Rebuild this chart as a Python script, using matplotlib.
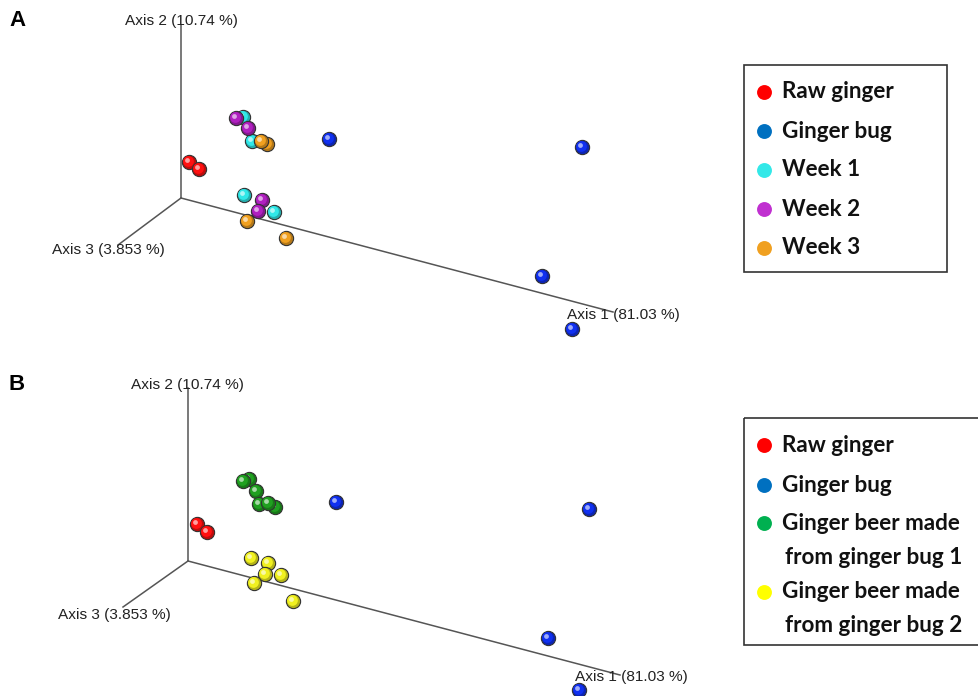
import numpy as np
import matplotlib
matplotlib.use("Agg")
import matplotlib.pyplot as plt
from matplotlib.colors import to_rgb

# projected sample positions (screen coordinates of the PCoA view)
raw_a_x = [189, 199]
raw_a_y = [162, 169]
bug_a_x = [329, 582, 542, 572]
bug_a_y = [139, 147, 276, 329]
week1_x = [243, 252, 244, 274]
week1_y = [117, 141, 195, 212]
week2_x = [236, 248, 262, 258]
week2_y = [118, 128, 200, 211]
week3_x = [267, 261, 247, 286]
week3_y = [144, 141, 221, 238]

raw_b_x = [197, 207]
raw_b_y = [524, 532]
bug_b_x = [336, 589, 548, 579]
bug_b_y = [502, 509, 638, 690]
beer1_x = [249, 243, 256, 275, 259, 268]
beer1_y = [479, 481, 491, 507, 504, 503]
beer2_x = [251, 268, 265, 281, 254, 293]
beer2_y = [558, 563, 574, 575, 583, 601]

axis_labels = ["Axis 1 (81.03 %)", "Axis 2 (10.74 %)", "Axis 3 (3.853 %)"]

legend_a = ["Raw ginger", "Ginger bug", "Week 1", "Week 2", "Week 3"]
legend_b = ["Raw ginger", "Ginger bug", "Ginger beer made\nfrom ginger bug 1",
            "Ginger beer made\nfrom ginger bug 2"]

sphere_cols = {"raw": "#ff1010", "bug": "#1030f0", "w1": "#30e8e8",
               "w2": "#b020c0", "w3": "#f0a020", "b1": "#20a020", "b2": "#f0f020"}
flat_cols = {"raw": "#ff0000", "bug": "#0070c0", "w1": "#33e8e8",
             "w2": "#c030d0", "w3": "#f0a020", "b1": "#00b050", "b2": "#ffff00"}


def spheres(ax, xs, ys, col):
    rgb = np.array(to_rgb(col))
    for x, y in zip(xs, ys):
        ax.scatter([x], [y], s=105, color=rgb * 0.75, edgecolors="#333333",
                   linewidths=0.8, zorder=3)
        ax.scatter([x - 0.8], [y - 0.8], s=60, color=rgb, linewidths=0, zorder=3)
        ax.scatter([x - 1.8], [y - 2.0], s=12, color=rgb * 0.4 + 0.6,
                   linewidths=0, zorder=3)


def draw_axes(ax, origin, top, left, right):
    ox, oy = origin
    for end in (top, left, right):
        ax.plot([ox, end[0]], [oy, end[1]], color="#555555", lw=1.1, zorder=1)


def legend_box(ax, x0, y0, x1, y1, rows, keys, gap=34):
    ax.add_patch(plt.Rectangle((x0, y0), x1 - x0, y1 - y0, fill=False,
                               edgecolor="#333333", lw=1.2, zorder=2))
    for (ty, text), k in zip(rows, keys):
        ax.scatter([764], [ty], s=115, color=flat_cols[k], linewidths=0, zorder=3)
        for i, line in enumerate(text.split("\n")):
            ax.text(782 + 3 * i, ty + gap * i, line, fontsize=16.2,
                    fontweight="bold", family="Lato", va="center", ha="left",
                    color="#111111")


fig = plt.figure(figsize=(9.79, 6.96), dpi=100)
ax = fig.add_axes([0, 0, 1, 1])
ax.set_xlim(0, 979)
ax.set_ylim(696, 0)
ax.axis("off")

lab = dict(fontsize=11.1, family="Liberation Sans", color="#222222", zorder=4)

# panel A
ax.text(9, 21, "A", fontsize=16, fontweight="bold", family="Liberation Sans",
        va="center")
draw_axes(ax, (181, 198), (181, 25), (118, 245), (613, 312))
ax.text(125, 21, axis_labels[1], va="center", **lab)
ax.text(52, 250, axis_labels[2], va="center", **lab)
ax.text(567, 315, axis_labels[0], va="center", **lab)
spheres(ax, raw_a_x, raw_a_y, sphere_cols["raw"])
spheres(ax, bug_a_x, bug_a_y, sphere_cols["bug"])
spheres(ax, week1_x, week1_y, sphere_cols["w1"])
spheres(ax, week3_x, week3_y, sphere_cols["w3"])
spheres(ax, week2_x, week2_y, sphere_cols["w2"])
legend_box(ax, 744, 65, 947, 272,
           list(zip([92, 131, 170, 209, 248], legend_a)),
           ["raw", "bug", "w1", "w2", "w3"])

# panel B
ax.text(9, 384, "B", fontsize=16, fontweight="bold", family="Liberation Sans",
        va="center")
draw_axes(ax, (188, 561), (188, 388), (123, 607), (620, 675))
ax.text(131, 385, axis_labels[1], va="center", **lab)
ax.text(58, 615, axis_labels[2], va="center", **lab)
ax.text(575, 677, axis_labels[0], va="center", **lab)
spheres(ax, raw_b_x, raw_b_y, sphere_cols["raw"])
spheres(ax, bug_b_x, bug_b_y, sphere_cols["bug"])
spheres(ax, beer1_x, beer1_y, sphere_cols["b1"])
spheres(ax, beer2_x, beer2_y, sphere_cols["b2"])
legend_box(ax, 744, 418, 985, 645,
           list(zip([445, 485, 523, 592], legend_b)),
           ["raw", "bug", "b1", "b2"])

fig.savefig("out.png", dpi=100)
